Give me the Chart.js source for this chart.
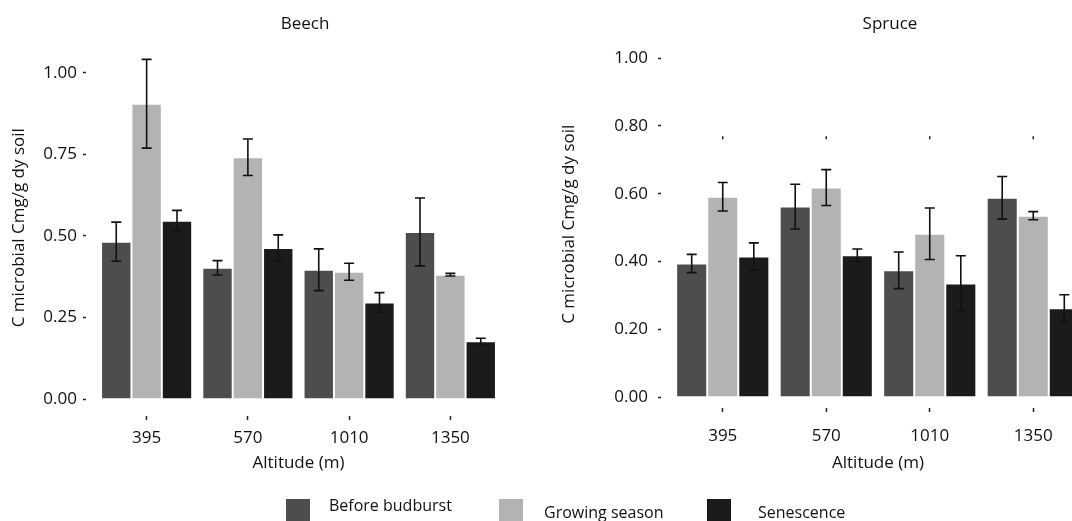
<!DOCTYPE html>
<html>
<head>
<meta charset="utf-8">
<title>Microbial carbon by altitude</title>
<script src="https://cdn.jsdelivr.net/npm/chart.js@4.4.1/dist/chart.umd.min.js"></script>
<style>
  html, body { margin: 0; padding: 0; background: #fff; }
  body {
    position: relative;
    width: 1072px;
    height: 521px;
    overflow: hidden;
    font-family: "Open Sans", sans-serif;
    color: #111;
  }
  .panel { position: absolute; top: 0; }
  #beechChart { left: 0; }
  #spruceChart { left: 540px; }
  #legend { position: absolute; left: 0; top: 499px; width: 1072px; height: 22px; }
  .legend-item { position: absolute; top: 0; display: flex; align-items: flex-start; }
  .legend-item:nth-child(1) { left: 286px; }
  .legend-item:nth-child(2) { left: 499px; }
  .legend-item:nth-child(3) { left: 707px; }
  .legend-box { width: 24px; height: 26px; margin-right: 19px; }
  .legend-item:nth-child(2) .legend-box { margin-right: 21px; }
  .legend-item:nth-child(3) .legend-box { margin-right: 27px; }
  .legend-item span { font-size: 16px; line-height: 20px; padding-top: 3px; white-space: nowrap; }
  .legend-item:first-child span { padding-top: 0; margin-top: -4px; }
</style>
</head>
<body>
<canvas id="beechChart" class="panel" width="610" height="521"></canvas>
<canvas id="spruceChart" class="panel" width="700" height="521"></canvas>
<div id="legend"></div>

<script>
// Altitudes (m) and sampling periods
const altitudes = ['395', '570', '1010', '1350'];
const seasons = ['Before budburst', 'Growing season', 'Senescence'];
const seasonColors = ['#4d4d4d', '#b3b3b3', '#1b1b1b'];

// Beech plots: mean microbial C (mg/g dry soil) and error
const beechBefore = [0.482, 0.402, 0.396, 0.512];
const beechBeforeErr = [0.060, 0.022, 0.064, 0.104];
const beechGrowing = [0.905, 0.741, 0.390, 0.381];
const beechGrowingErr = [0.136, 0.056, 0.026, 0.004];
const beechSenescence = [0.546, 0.463, 0.296, 0.177];
const beechSenescenceErr = [0.032, 0.040, 0.030, 0.009];

// Spruce plots
const spruceBefore = [0.394, 0.562, 0.374, 0.588];
const spruceBeforeErr = [0.027, 0.066, 0.054, 0.063];
const spruceGrowing = [0.591, 0.618, 0.482, 0.535];
const spruceGrowingErr = [0.042, 0.053, 0.076, 0.012];
const spruceSenescence = [0.415, 0.418, 0.335, 0.262];
const spruceSenescenceErr = [0.040, 0.019, 0.082, 0.040];
const spruceStrayTicks = [0.765, 0.765, 0.765, 0.765];

// Tick values of the y axes
const beechTicks = [0, 0.25, 0.5, 0.75, 1.0];
const spruceTicks = [0, 0.2, 0.4, 0.6, 0.8, 1.0];

const textColor = '#111';
const fontFamily = '"Open Sans", sans-serif';
const fontSize = 17;

// draws mean +/- error whiskers on top of each bar
const errorBars = {
    id: 'errorBars',
    afterDatasetsDraw(chart) {
        const ctx = chart.ctx;
        const yScale = chart.scales.y;
        ctx.save();
        ctx.strokeStyle = '#111';
        ctx.lineWidth = 1.6;
        chart.data.datasets.forEach((ds, i) => {
            if (!ds.errors) return;
            chart.getDatasetMeta(i).data.forEach((bar, j) => {
                const top = yScale.getPixelForValue(ds.data[j] + ds.errors[j]);
                const bottom = yScale.getPixelForValue(ds.data[j] - ds.errors[j]);
                ctx.beginPath();
                ctx.moveTo(bar.x, top);
                ctx.lineTo(bar.x, bottom);
                ctx.moveTo(bar.x - 5, top);
                ctx.lineTo(bar.x + 5, top);
                ctx.moveTo(bar.x - 5, bottom);
                ctx.lineTo(bar.x + 5, bottom);
                ctx.stroke();
            });
        });
        ctx.restore();
    }
};

function barSet(label, color, data, errors) {
    return {
        type: 'bar',
        label: label,
        data: data,
        errors: errors,
        backgroundColor: color,
        borderColor: 'rgba(255, 255, 255, 0.2)',
        borderWidth: 1,
        categoryPercentage: 0.9,
        barPercentage: 1.0
    };
}

function makePanel(canvasId, cfg) {
    const ctx = document.getElementById(canvasId).getContext('2d');
    return new Chart(ctx, {
        type: 'bar',
        data: {
            labels: altitudes,
            datasets: cfg.datasets
        },
        options: {
            responsive: false,
            animation: false,
            events: [],
            layout: { padding: { left: 0, right: 0, top: 0, bottom: 48 } },
            plugins: {
                legend: { display: false },
                tooltip: { enabled: false },
                title: {
                    display: true,
                    text: cfg.title,
                    color: textColor,
                    font: { family: fontFamily, size: fontSize, weight: 'normal' },
                    padding: { top: 14, bottom: cfg.titleGap }
                }
            },
            scales: {
                x: {
                    afterFit(scale) { scale.height = cfg.xHeight; },
                    border: { display: false },
                    grid: {
                        offset: false,
                        drawOnChartArea: false,
                        tickLength: cfg.xTickGap + 4,
                        tickColor: '#222',
                        tickWidth: 1.5,
                        tickBorderDash: [4, cfg.xTickGap],
                        tickBorderDashOffset: 4
                    },
                    ticks: {
                        padding: cfg.xTickPad,
                        color: textColor,
                        font: { family: fontFamily, size: fontSize }
                    },
                    title: {
                        display: true,
                        text: 'Altitude (m)',
                        color: textColor,
                        font: { family: fontFamily, size: fontSize },
                        padding: 0
                    }
                },
                y: {
                    min: 0,
                    max: cfg.yMax,
                    afterFit(scale) { scale.width = cfg.yWidth; },
                    afterBuildTicks(scale) {
                        scale.ticks = cfg.yTicks.map(v => ({ value: v }));
                    },
                    border: { display: false },
                    grid: {
                        drawOnChartArea: false,
                        tickLength: 13,
                        tickColor: '#222',
                        tickWidth: 1.5,
                        tickBorderDash: [3, 20]
                    },
                    ticks: {
                        padding: cfg.yTickPad,
                        color: textColor,
                        font: { family: fontFamily, size: fontSize },
                        callback: v => Number(v).toFixed(2)
                    },
                    title: {
                        display: true,
                        text: 'C microbial Cmg/g dy soil',
                        color: textColor,
                        font: { family: fontFamily, size: fontSize },
                        padding: { top: cfg.yTitlePad, bottom: 0 }
                    }
                },
                // empty right-hand margin so the panel title sits over the whole panel
                side: {
                    position: 'right',
                    afterFit(scale) { scale.width = cfg.rightGap; },
                    border: { display: false },
                    grid: { display: false },
                    ticks: { display: false }
                }
            }
        },
        plugins: [errorBars]
    });
}

makePanel('beechChart', {
    title: 'Beech',
    datasets: [
        barSet(seasons[0], seasonColors[0], beechBefore, beechBeforeErr),
        barSet(seasons[1], seasonColors[1], beechGrowing, beechGrowingErr),
        barSet(seasons[2], seasonColors[2], beechSenescence, beechSenescenceErr)
    ],
    yMax: 1.05,
    yTicks: beechTicks,
    yWidth: 96,
    yTickPad: 6,
    yTitlePad: 9,
    rightGap: 109,
    titleGap: 22,
    xHeight: 74,
    xTickGap: 17,
    xTickPad: 8
});

makePanel('spruceChart', {
    title: 'Spruce',
    datasets: [
        barSet(seasons[0], seasonColors[0], spruceBefore, spruceBeforeErr),
        barSet(seasons[1], seasonColors[1], spruceGrowing, spruceGrowingErr),
        barSet(seasons[2], seasonColors[2], spruceSenescence, spruceSenescenceErr),
        {
            type: 'line',
            label: 'ticks',
            data: spruceStrayTicks,
            showLine: false,
            pointStyle: 'line',
            rotation: 90,
            pointRadius: 1.5,
            borderColor: '#222',
            borderWidth: 1.5
        }
    ],
    yMax: 1.02,
    yTicks: spruceTicks,
    yWidth: 131,
    yTickPad: 10,
    yTitlePad: 19,
    rightGap: 155,
    titleGap: 17,
    xHeight: 76,
    xTickGap: 11,
    xTickPad: 14
});

// legend under both panels
const legendEl = document.getElementById('legend');
seasons.forEach((name, i) => {
    const item = document.createElement('div');
    item.className = 'legend-item';
    const box = document.createElement('div');
    box.className = 'legend-box';
    box.style.background = seasonColors[i];
    const label = document.createElement('span');
    label.textContent = name;
    item.appendChild(box);
    item.appendChild(label);
    legendEl.appendChild(item);
});
</script>
</body>
</html>
